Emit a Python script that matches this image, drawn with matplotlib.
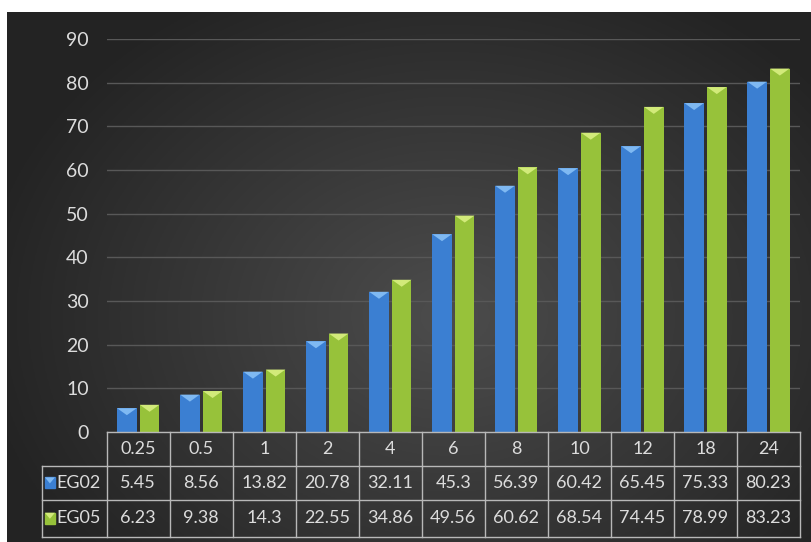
import numpy as np
import matplotlib.pyplot as plt
from matplotlib.patches import Polygon, Rectangle
from matplotlib.transforms import blended_transform_factory

plt.rcParams["font.family"] = ["Lato", "DejaVu Sans"]

categories = ["0.25", "0.5", "1", "2", "4", "6", "8", "10", "12", "18", "24"]
series_names = ["EG02", "EG05"]
eg02 = [5.45, 8.56, 13.82, 20.78, 32.11, 45.3, 56.39, 60.42, 65.45, 75.33, 80.23]
eg05 = [6.23, 9.38, 14.3, 22.55, 34.86, 49.56, 60.62, 68.54, 74.45, 78.99, 83.23]
yticks = [0, 10, 20, 30, 40, 50, 60, 70, 80, 90]

bar_colors = ["#3b7fd2", "#97c23a"]
top_colors = ["#7fb9f2", "#d2ea7a"]
text_color = "#dcdcdc"
line_color = "#b8b8b8"

W, H = 812, 542
fig = plt.figure(figsize=(W / 100, H / 100), dpi=100)
fig.patch.set_facecolor("white")

# dark gradient panel
bg = fig.add_axes([7 / W, 0, 1 - 7 / W, 1 - 12 / H])
bg.set_axis_off()
gx, gy = np.meshgrid(np.linspace(-1, 1, 400), np.linspace(-1, 1, 270))
r = np.sqrt(((gx - 0.1) / 1.1) ** 2 + ((gy - 0.15) / 1.3) ** 2)
shade = np.clip(0.30 - 0.15 * r, 0.14, 0.30)
bg.imshow(np.dstack([shade] * 3), aspect="auto", extent=[0, 1, 0, 1])

left, right = 106.7, 800
bottom_px, top_px = 432, 39
ax = fig.add_axes([left / W, (H - bottom_px) / H, (right - left) / W,
                   (bottom_px - top_px) / H])
ax.patch.set_alpha(0)
ax.set_xlim(-0.5, len(categories) - 0.5)
ax.set_ylim(0, 90)
for s in ax.spines.values():
    s.set_visible(False)
ax.set_xticks([])
ax.set_yticks(yticks)
ax.tick_params(axis="y", length=0, pad=13, labelsize=14, labelcolor=text_color)
ax.grid(axis="y", color="#585858", linewidth=1)
ax.set_axisbelow(True)

x = np.arange(len(categories))
bw = 0.31
offsets = [-0.18, 0.18]
tri_h = 1.6
for vals, off, c, tc in zip([eg02, eg05], offsets, bar_colors, top_colors):
    ax.bar(x + off, vals, width=bw, color=c, zorder=2)
    for xi, v in zip(x + off, vals):
        ax.add_patch(Polygon([[xi - bw / 2, v], [xi + bw / 2, v], [xi, v - tri_h]],
                             closed=True, color=tc, zorder=3, lw=0))

# data table below the plot
tr = blended_transform_factory(ax.transData, ax.transAxes)
ah = bottom_px - top_px
row_px = [432, 465.7, 500, 536.5]
row_y = [-(p - bottom_px) / ah for p in row_px]
leg_left = -0.5 - (left - 41.7) / ((right - left) / len(categories))

kw = dict(color=line_color, lw=1, transform=tr, clip_on=False)
ax.plot([-0.5, 10.5], [row_y[0]] * 2, **kw)
for ry in row_y[1:]:
    ax.plot([leg_left, 10.5], [ry] * 2, **kw)
for k in range(len(categories) + 1):
    ax.plot([k - 0.5] * 2, [row_y[0], row_y[3]], **kw)
ax.plot([leg_left] * 2, [row_y[1], row_y[3]], **kw)

for k, cat in enumerate(categories):
    ax.text(k, (row_y[0] + row_y[1]) / 2, cat, transform=tr, ha="center",
            va="center", fontsize=13, color=text_color)
for i, vals in enumerate([eg02, eg05]):
    yc = (row_y[i + 1] + row_y[i + 2]) / 2
    for k, v in enumerate(vals):
        ax.text(k, yc, f"{v:g}", transform=tr, ha="center", va="center",
                fontsize=13, color=text_color)
    # legend key + series name
    kx = leg_left + 0.05
    kwid, khgt = 0.16, 0.028
    ky = yc - khgt / 2
    ax.add_patch(Rectangle((kx, ky), kwid, khgt, transform=tr, color=bar_colors[i],
                           clip_on=False))
    ax.add_patch(Polygon([[kx, ky + khgt], [kx + kwid, ky + khgt],
                          [kx + kwid / 2, ky + khgt * 0.45]], transform=tr,
                         color=top_colors[i], clip_on=False, lw=0))
    ax.text(kx + kwid + 0.03, yc, series_names[i], transform=tr, ha="left",
            va="center", fontsize=13, color=text_color)

fig.savefig("out.png", dpi=100)
